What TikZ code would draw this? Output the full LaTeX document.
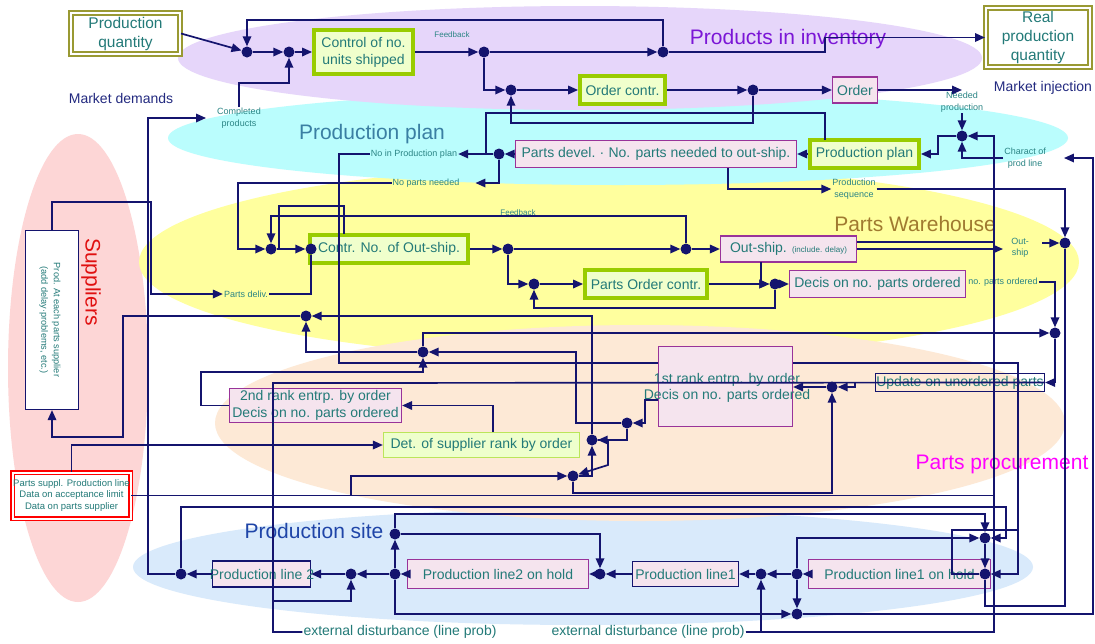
\documentclass[tikz,border=0pt]{standalone}
\usepackage{fontspec}
\setmainfont{Liberation Sans}
\usetikzlibrary{arrows.meta}
\newcommand\fz[2]{\fontsize{#1}{#2}\selectfont}
\definecolor{navy}{HTML}{14146E}
\definecolor{tealc}{HTML}{237A78}
\definecolor{lblc}{HTML}{2B8585}
\definecolor{grn}{HTML}{99CC00}
\definecolor{gfill}{HTML}{F0FFCC}
\definecolor{pbord}{HTML}{993399}
\definecolor{pfill}{HTML}{F5E4EE}
\definecolor{olivec}{HTML}{999933}
\definecolor{cpurple}{HTML}{E6D6FA}
\definecolor{ccyan}{HTML}{BAFDFD}
\definecolor{cyellow}{HTML}{FFFF9E}
\definecolor{cpeach}{HTML}{FDE9D6}
\definecolor{cblue}{HTML}{D9EAFB}
\definecolor{cpink}{HTML}{FDD6D6}
\definecolor{mkt}{HTML}{232A80}
\definecolor{dfill}{HTML}{EEFFCC}
\definecolor{dbord}{HTML}{BBE55A}
\definecolor{tinvc}{HTML}{7B16D6}
\definecolor{tplanc}{HTML}{3A7FA3}
\definecolor{twhc}{HTML}{A07A30}
\definecolor{tprocc}{HTML}{FF00FF}
\definecolor{tsitec}{HTML}{1F45A8}
\definecolor{tsupc}{HTML}{E01010}
\begin{document}
\begin{tikzpicture}[x=1pt,y=-1pt,
  ln/.style={draw=navy,line width=1.7pt},
  arr/.style={ln,-{Triangle[length=10pt,width=8.5pt]}},
  dot/.style={circle,fill=navy,inner sep=0pt,minimum size=11pt},
  gbox/.style={draw=grn,line width=3.8pt,fill=gfill,text=tealc,font=\fz{14}{17},inner sep=0pt,align=center},
  pbox/.style={draw=pbord,line width=1.2pt,fill=pfill,text=tealc,font=\fz{14}{17},inner sep=0pt,align=center},
  nbox/.style={draw=navy,line width=1.2pt,fill=pfill,text=tealc,font=\fz{14}{17},inner sep=0pt,align=center},
  obox/.style={draw=olivec,line width=2pt,double=white,double distance=2pt,fill=white,text=tealc,font=\fz{15.5}{19},inner sep=0pt,align=center},
  lbl/.style={text=lblc,font=\fz{9}{11.5},inner sep=1pt,align=center},
  big/.style={font=\fz{21}{24},inner sep=0pt}]
\useasboundingbox (0,0) rectangle (1095,643);
\fill[white] (0,0) rectangle (1095,643);
% ---- regions
\fill[cpink] (78,368) ellipse [x radius=70pt,y radius=234pt];
\fill[cblue] (583,567) ellipse [x radius=450pt,y radius=58pt];
\fill[cyellow] (609,262) ellipse [x radius=470pt,y radius=97pt];
\fill[cpeach] (640,423) ellipse [x radius=425pt,y radius=98pt];
\fill[ccyan] (618,138) ellipse [x radius=450pt,y radius=47pt];
\fill[cpurple] (580,58) ellipse [x radius=402pt,y radius=52pt];
% ---- region titles
\node[big,text=tinvc] (tinv) at (788,39) {Products in inventory};
\node[big,text=tplanc] (tplan) at (372,134) {Production plan};
\node[big,text=twhc] (twh) at (915,224) {Parts Warehouse};
\node[big,text=tprocc] (tproc) at (1002,464) {Parts procurement};
\node[big,text=tsitec] (tsite) at (314,531) {Production site};
\node[big,text=tsupc,rotate=-90] (tsup) at (91,282) {Suppliers};
\node[font=\fz{14}{17},text=mkt,inner sep=0pt] (md) at (121,98) {Market demands};
\node[font=\fz{14}{17},text=mkt,inner sep=0pt] (mi) at (1043,88) {Market injection};
% ---- boxes
\node[obox,minimum width=109,minimum height=41] (pq) at (125.5,33.5) {Production\\quantity};
\node[obox,minimum width=104,minimum height=59] (rpq) at (1038,37.5) {Real\\production\\quantity};
\node[gbox,minimum width=99,minimum height=44] (ctrl) at (363.5,52) {Control of no.\\units shipped};
\node[gbox,minimum width=85,minimum height=27.5] (oc) at (622.5,90) {Order contr.};
\node[pbox,minimum width=45,minimum height=26] (ord) at (855,90) {Order};
\node[pbox,minimum width=281,minimum height=27] (pd) at (656,154) {Parts devel.\hspace{0.3em}·\hspace{0.3em}No. parts needed to out-ship.};
\node[gbox,minimum width=109,minimum height=27.5] (pp) at (864.5,154) {Production plan};
\node[gbox,minimum width=158,minimum height=27.5] (cno) at (389,249) {Contr. No. of Out-ship.};
\node[pbox,minimum width=136,minimum height=26] (os) at (788.5,249) {Out-ship. {\fz{8}{9}(include. delay)}};
\node[gbox,minimum width=122,minimum height=27.5] (poc) at (646,284) {Parts Order contr.};
\node[pbox,minimum width=176,minimum height=27] (dec) at (877.5,284) {Decis on no. parts ordered};
\node[draw=navy,line width=1.2pt,fill=white,minimum width=53,minimum height=179,inner sep=0pt] (sup) at (52,320) {};
\node[rotate=-90,text=tealc,font=\fz{9.2}{12.5},align=center,inner sep=0pt] (suptxt) at (50,320) {Prod. At each parts supplier\\(add delay·problems, etc.)};
\node[pbox,minimum width=134,minimum height=80] (r1) at (725.5,386.5) {};
\node[text=tealc,font=\fz{14}{16.5},align=center,inner sep=0pt] (r1txt) at (727,388) {1st rank entrp. by order\\Decis on no. parts ordered};
\node[draw=navy,line width=1.2pt,minimum width=169,minimum height=18,inner sep=0pt,text=tealc,font=\fz{14}{17}] (upd) at (960,382.5) {Update on unordered parts};
\node[pbox,minimum width=172,minimum height=34] (r2) at (315.5,405.5) {2nd rank entrp. by order\\Decis on no. parts ordered};
\node[draw=dbord,line width=1.2pt,fill=dfill,minimum width=196,minimum height=25,inner sep=0pt,text=tealc,font=\fz{14}{17}] (det) at (481.5,445) {Det. of supplier rank by order};
\node[draw=red,line width=1.5pt,double=white,double distance=2pt,fill=white,minimum width=118,minimum height=46,inner sep=0pt,text=tealc,font=\fz{9.5}{11.5},align=center] (ps) at (71.5,495.5) {Parts suppl. Production line\\Data on acceptance limit\\Data on parts supplier};
\node[nbox,minimum width=98,minimum height=26] (pl2) at (261.5,574) {};
\node[text=tealc,font=\fz{14}{17},inner sep=0pt] (pl2txt) at (262,574) {Production line 2};
\node[pbox,minimum width=181,minimum height=29] (pl2h) at (498,574) {Production line2 on hold};
\node[nbox,minimum width=106,minimum height=25] (pl1) at (685.5,574) {Production line1};
\node[pbox,minimum width=182,minimum height=29] (pl1h) at (899.5,574) {Production line1 on hold};
% ---- small labels
\node[lbl] (cp) at (239,118) {Completed\\products};
\node[lbl,font=\fz{8}{10}] (fb1) at (452,35) {Feedback};
\node[lbl] (np) at (962,102) {Needed\\production};
\node[lbl] (nipp) at (414,154) {No in Production plan};
\node[lbl] (npn) at (426,183) {No parts needed};
\node[lbl] (pseq) at (854,189) {Production\\sequence};
\node[lbl] (cpl) at (1025,158) {Charact of\\prod line};
\node[lbl,font=\fz{8}{10}] (fb2) at (518,213) {Feedback};
\node[lbl] (osl) at (1020,248) {Out-\\ship};
\node[lbl] (npo) at (1003,282) {no. parts ordered};
\node[lbl] (pdl) at (246,294) {Parts deliv.};
\node[text=tealc,font=\fz{14}{17},inner sep=1pt] (ext1) at (400,632) {external disturbance (line prob)};
\node[text=tealc,font=\fz{14}{17},inner sep=1pt] (ext2) at (648,632) {external disturbance (line prob)};
% ---- junction dots
\node[dot] (A) at (247,52) {};
\node[dot] (B) at (289,52) {};
\node[dot] (D) at (484,52) {};
\node[dot] (C) at (663,52) {};
\node[dot] (E) at (511,90) {};
\node[dot] (F) at (753,90) {};
\node[dot] (G) at (962,136) {};
\node[dot] (U) at (499,154) {};
\node[dot] (S) at (271,249) {};
\node[dot] (T) at (311,249) {};
\node[dot] (W) at (508,249) {};
\node[dot] (V) at (686,249) {};
\node[dot] (X) at (534,284) {};
\node[dot] (Y) at (775,284) {};
\node[dot] (M) at (1065,243) {};
\node[dot] (N) at (1055,333) {};
\node[dot] (d1) at (423,352) {};
\node[dot] (d2) at (306,316) {};
\node[dot] (R) at (627,423) {};
\node[dot] (Q) at (592,440) {};
\node[dot] (P) at (573,476) {};
\node[dot] (O) at (832,387) {};
\node[dot] (K) at (985,538) {};
\node[dot] (L) at (985,574) {};
\node[dot] (H) at (797,574) {};
\node[dot] (I) at (761,574) {};
\node[dot] (J) at (797,614) {};
\node[dot] (Z1) at (181,574) {};
\node[dot] (Z2) at (351,574) {};
\node[dot] (Z3) at (395,574) {};
\node[dot] (Z4) at (395,534) {};
\node[dot] (Z5) at (600,574) {};
% ---- connectors: inventory
\draw[arr] (pq.east) -- (A);
\draw[arr] (C) -- ++(0,-32) -| (A);
\draw[arr] (A) -- (B);
\draw[arr] (B) -- (ctrl);
\draw[arr] (cp.north) -- ++(0,-24) -| (B);
\draw[arr] (ctrl) -- (D);
\draw[arr] (D) -- (C);
\draw[arr] (C) -- (825,52) |- (rpq.west);
\draw[arr] (D) |- (E);
\draw[arr] (E) -- (oc);
\draw[arr] (oc) -- (F);
\draw[arr] (F) -- (ord);
\draw[arr] (F) -- ++(0,33) -| (E);
\draw[arr] (ord) -- (np.north |- ord);
\draw[arr] (np) -- (G);
% ---- production plan
\draw[arr] (G) -- ++(-24,0) |- (pp.east);
\draw[arr] (ext2.east) -- (994,632) |- (G);
\draw[arr] (cpl.west) -| (G);
\draw[arr] (J) -- (1093,614) -- (1093,158) -- ([xshift=17pt]cpl.east);
\draw[arr] (pp) -- (pd);
\draw[arr] (pd) -- (U);
\draw[arr] (U) -- (nipp.east);
\draw[arr] (U) |- ([xshift=15pt]npn.east);
\draw[ln] (825,140) |- (486,113) -- (486,154);
\draw[arr] (728,168) |- (pseq.west);
\draw[ln] (nipp.west) -| (339,363) -- (658,363);
\draw[arr] (793,363) -- (1018,363) |- (L);
% ---- warehouse
\draw[arr] (npn.west) -- (238,183) |- (S);
\draw[arr] (S) -- (T);
\draw[ln] (279,249) |- (344,206) -- (344,234);
\draw[arr] (V) -- ++(0,-33) -| (S);
\draw[ln] (pdl.east) -| (T);
\draw[arr] (sup.north) -- (52,202) -- (151,202) |- (pdl.west);
\draw[arr] (cno) -- (W);
\draw[arr] (W) -- (V);
\draw[arr] (V) -- (os);
\draw[arr] (W) |- (X);
\draw[arr] (X) -- (poc);
\draw[arr] (poc) -- (Y);
\draw[arr] (Y) -- (dec);
\draw[arr] (Y) -- ++(0,24) -| (X);
\draw[arr] (761,262) |- (Y);
\draw[arr] (os.east) -- (1003,249);
\draw[ln] (857,242) -- (994,242);
\draw[arr] (1042,243) -- (M);
\draw[arr] (pseq.east) -| (M);
\draw[ln] (M) -- (1065,606) -| (L);
\draw[arr] (npo.east) -| (N);
% ---- procurement
\draw[arr] (d1) |- (N);
\draw[arr] (N) |- (upd.east);
\draw[ln] (ext1.west) -- (273,632) -- (273,383) -- (upd.east);
\draw[arr] (273,601) -| (Z2);
\draw[arr] (855,383) |- (O);
\draw[arr] (O) -- (r1.east |- O);
\draw[arr] (P) |- (832,493) -- (O);
\draw[arr] (658,400) -- (645,400) |- (R);
\draw[arr] (R) -- (576,423) -- (576,352) -- (d1);
\draw[arr] (R) |- (Q);
\draw[arr] (P) -| (Q);
\draw[arr] (Q) -| (608,465) -- (P);
\draw[arr] (Q) |- (d2);
\draw[arr] (d1) -| (d2);
\draw[arr] (d2) -- (123,316) -- (123,437) -| (sup.south);
\draw[arr] (493,432) |- (r2.east);
\draw[arr] (r2.west) -- (201,405.5) |- (423,372) -- (d1);
\draw[arr] (ps.north) |- (det.west);
\draw[ln] (ps.east) -- (994,495.5);
\draw[arr] (351,495.5) |- (P);
% ---- production site
\draw[arr] (Z1) -- (148,574) -- (148,118) -- ([xshift=-10pt]cp.west);
\draw[arr] (pl2) -- (Z1);
\draw[arr] (Z1) -- (181,507) -- (1006,507) |- (K);
\draw[arr] (Z2) -- (pl2);
\draw[arr] (Z3) -- (Z2);
\draw[arr] (pl2h) -- (Z3);
\draw[arr] (Z3) -- (Z4);
\draw[arr] (Z4) -| (Z5);
\draw[arr] (Z4) -- (395,514) -| (K);
\draw[arr] (Z3) |- (J);
\draw[arr] (pl1) -- (Z5);
\draw[arr] (Z5) -- (pl2h);
\draw[arr] (I) -- (pl1);
\draw[arr] (H) -- (I);
\draw[arr] (pl1h) -- (H);
\draw[arr] (H) -- (J);
\draw[arr] (H) |- (K);
\draw[arr] (K) -- (L);
\draw[ln] (L) -- (952,574) |- (1018,530);
\draw[arr] (ext2.east) -| (I);
\end{tikzpicture}
\end{document}
